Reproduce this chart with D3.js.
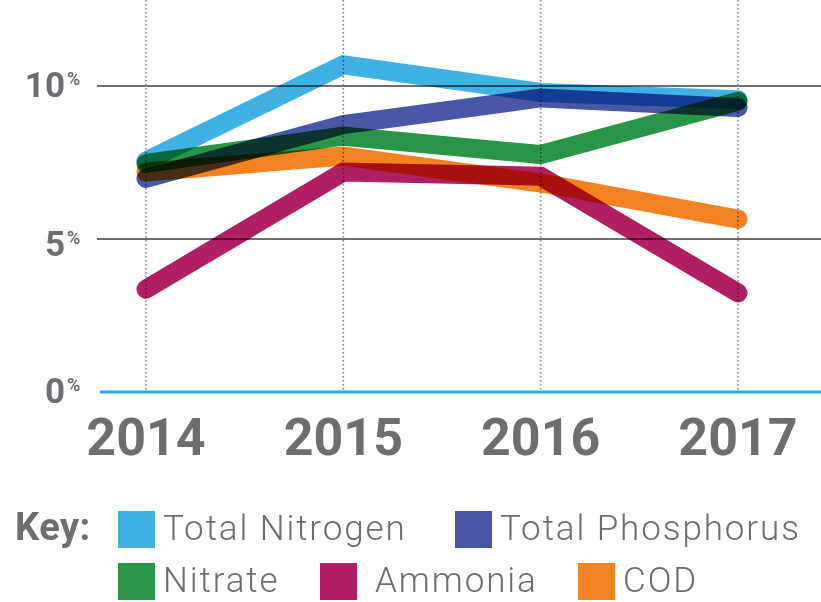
<!DOCTYPE html>
<html lang="en">
<head>
  <meta charset="UTF-8" />
  <title>Nutrient change by year</title>
  <script src="https://d3js.org/d3.v7.min.js"></script>
  <style>
    body {
      margin: 0;
      padding: 0;
      background: #ffffff;
      font-family: 'Roboto', 'Liberation Sans', sans-serif;
    }

    svg { display: block; background: #ffffff; }

    .series {
      fill: none;
      stroke-width: 19;
      stroke-linecap: round;
      stroke-linejoin: miter;
      mix-blend-mode: multiply;
    }

    .grid { stroke: #6d6e71; stroke-width: 2; }
    .vgrid { stroke: #808285; stroke-width: 1.6; stroke-dasharray: 1.6 2.4; }
    .baseline { stroke: #29abe2; stroke-width: 3; }

    .tick-num { fill: #6d6e71; font-weight: 700; font-size: 35px; }
    .tick-pct { fill: #6d6e71; font-weight: 700; font-size: 18px; }
    .year { fill: #6d6e71; font-weight: 700; font-size: 52px; }
    .key-title { fill: #6d6e71; font-weight: 700; font-size: 38px; letter-spacing: 0.5px; }
    .key-label { fill: #6d6e71; font-weight: 300; font-size: 35px; letter-spacing: 1.9px; }
  </style>
</head>
<body>
  <div id="chart"></div>

  <script>
    const years = ["2014", "2015", "2016", "2017"];
    const yTicks = [0, 5, 10];

    const totalNitrogen   = [7.55, 10.69, 9.79, 9.55];
    const totalPhosphorus = [6.98, 8.74, 9.61, 9.30];
    const nitrate         = [7.47, 8.36, 7.76, 9.50];
    const ammonia         = [3.36, 7.19, 7.05, 3.24];
    const cod             = [7.19, 7.71, 6.83, 5.65];

    const seriesNames  = ["Total Nitrogen", "Total Phosphorus", "Nitrate", "Ammonia", "COD"];
    const seriesColors = ["#41b0e3", "#4a57a6", "#289548", "#b01f61", "#f58220"];
    const seriesValues = [totalNitrogen, totalPhosphorus, nitrate, ammonia, cod];

    // legend layout: [row, square x]
    const keyLayout = [[0, 118], [0, 455], [1, 118], [1, 320], [1, 578]];

    const width = 821, height = 602;

    const svg = d3.select("#chart").append("svg")
      .attr("width", width)
      .attr("height", height);

    const x = d3.scalePoint().domain(years).range([146, 738]);
    const y = d3.scaleLinear().domain([0, 10]).range([392, 86]);

    // horizontal gridlines (0 is drawn as the blue baseline)
    svg.append("g").selectAll("line")
      .data(yTicks.filter(d => d > 0))
      .join("line")
      .attr("class", "grid")
      .attr("x1", 97).attr("x2", width)
      .attr("y1", d => y(d)).attr("y2", d => y(d));

    // dotted year lines
    svg.append("g").selectAll("line")
      .data(years)
      .join("line")
      .attr("class", "vgrid")
      .attr("x1", d => x(d)).attr("x2", d => x(d))
      .attr("y1", 0).attr("y2", y(0));

    svg.append("line")
      .attr("class", "baseline")
      .attr("x1", 100).attr("x2", width)
      .attr("y1", y(0)).attr("y2", y(0));

    // y labels with small superscript %
    const yl = svg.append("g").selectAll("g")
      .data(yTicks)
      .join("g")
      .attr("transform", d => `translate(0,${y(d) + (d === 5 ? 17 : 11)})`);
    yl.append("text")
      .attr("class", "tick-num")
      .attr("x", 65)
      .attr("text-anchor", "end")
      .text(d => d);
    yl.append("text")
      .attr("class", "tick-pct")
      .attr("x", 67)
      .attr("y", -12)
      .text("%");

    // year labels
    svg.append("g").selectAll("text")
      .data(years)
      .join("text")
      .attr("class", "year")
      .attr("x", d => x(d))
      .attr("y", 455)
      .attr("text-anchor", "middle")
      .text(d => d);

    // lines
    const line = d3.line()
      .x((d, i) => x(years[i]))
      .y(d => y(d));

    svg.append("g").selectAll("path")
      .data(seriesValues)
      .join("path")
      .attr("class", "series")
      .attr("stroke", (d, i) => seriesColors[i])
      .attr("d", line);

    // key
    svg.append("text")
      .attr("class", "key-title")
      .attr("x", 15)
      .attr("y", 540)
      .text("Key:");

    const key = svg.append("g").selectAll("g")
      .data(seriesNames)
      .join("g")
      .attr("transform", (d, i) => `translate(${keyLayout[i][1]},${511 + keyLayout[i][0] * 52})`);
    key.append("rect")
      .attr("width", 37).attr("height", 37)
      .attr("fill", (d, i) => seriesColors[i]);
    key.append("text")
      .attr("class", "key-label")
      .attr("x", (d, i) => i === 3 ? 55 : 45)
      .attr("y", 29)
      .text(d => d);
  </script>
</body>
</html>
